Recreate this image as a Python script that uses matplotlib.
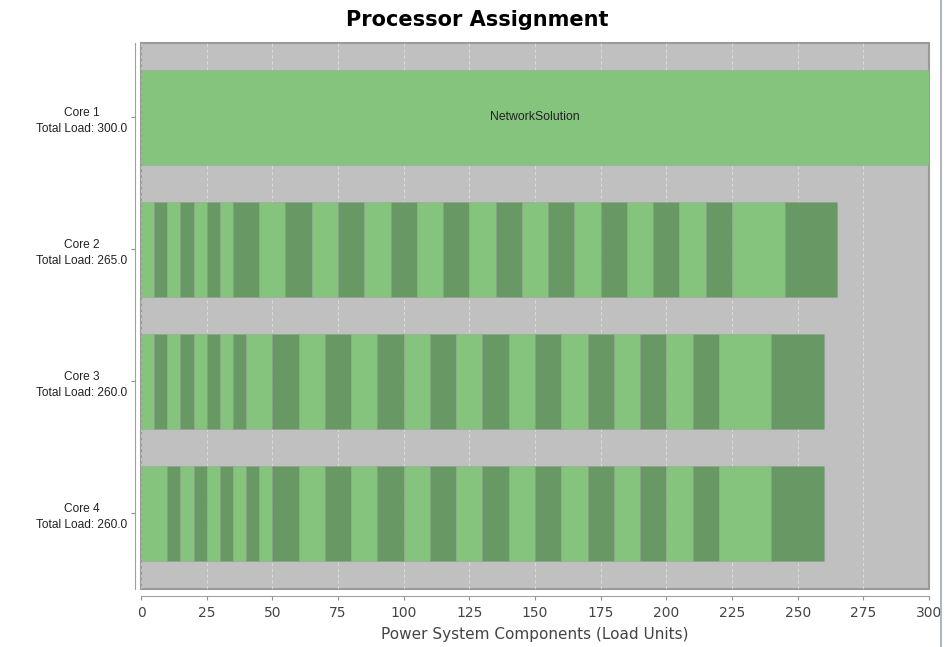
import matplotlib.pyplot as plt
from matplotlib.lines import Line2D

# segment widths per core, read left to right (colours alternate light/dark)
cores = ["Core 1", "Core 2", "Core 3", "Core 4"]
core1_widths = [300]
core2_widths = [5, 5, 5, 5, 5, 5, 5,
                10, 10, 10, 10, 10, 10, 10, 10, 10, 10,
                10, 10, 10, 10, 10, 10, 10, 10, 10,
                20, 20]
core3_widths = [5, 5, 5, 5, 5, 5, 5, 5,
                10, 10, 10, 10, 10, 10, 10, 10, 10,
                10, 10, 10, 10, 10, 10, 10, 10, 10,
                20, 20]
core4_widths = [10, 5, 5, 5, 5, 5, 5, 5, 5,
                10, 10, 10, 10, 10, 10, 10, 10, 10,
                10, 10, 10, 10, 10, 10, 10, 10,
                20, 20]
core1_names = ["NetworkSolution"]
x_ticks = [0, 25, 50, 75, 100, 125, 150, 175, 200, 225, 250, 275, 300]

LIGHT = "#85c47d"
DARK = "#689964"
BG = "#c0c0c0"

fig = plt.figure(figsize=(9.46, 6.47), dpi=100)
ax = fig.add_axes([141 / 946, 1 - 589 / 647, 788 / 946, 546 / 647])
ax.set_facecolor(BG)
ax.patch.set_edgecolor("#9a9a9a")
ax.patch.set_linewidth(1.5)

all_widths = [core1_widths, core2_widths, core3_widths, core4_widths]
for i, widths in enumerate(all_widths):
    left = 0
    for j, w in enumerate(widths):
        ax.barh(i, w, left=left, height=0.72,
                color=LIGHT if j % 2 == 0 else DARK,
                edgecolor=(0.55, 0.62, 0.55, 0.35), linewidth=0.8, zorder=2)
        left += w

ax.text(core1_widths[0] / 2, 0, core1_names[0], ha="center", va="center",
        fontsize=8.8, family="Liberation Sans", color="#222222", zorder=3)

for s in ("top", "right"):
    ax.spines[s].set_visible(False)
ax.spines["left"].set_position(("outward", 4))
ax.spines["bottom"].set_position(("outward", 5))
ax.spines["left"].set_color("#a0a0a0")
ax.spines["bottom"].set_color("#a0a0a0")
ax.tick_params(axis="x", length=3, color="#909090", pad=4)
ax.tick_params(axis="y", length=3, color="#909090", pad=3)

ax.set_xlim(0, 300)
ax.set_ylim(3.572, -0.564)
ax.set_xticks(x_ticks)
ax.set_xticklabels([str(t) for t in x_ticks], fontsize=10, color="#444444")
ax.set_yticks(range(len(cores)))
labels = [f"{c}\nTotal Load: {sum(w):.1f}" for c, w in zip(cores, all_widths)]
ax.set_yticklabels(labels)
for t in ax.get_yticklabels():
    t.set_fontfamily("Liberation Sans")
    t.set_fontsize(8.6)
    t.set_color("#222222")
    t.set_multialignment("center")
    t.set_linespacing(1.4)

ax.grid(axis="x", color="white", linestyle=(0, (4, 3)), linewidth=0.6, alpha=0.5, zorder=1)
ax.set_axisbelow(True)

ax.set_xlabel("Power System Components (Load Units)", fontsize=11, color="#444444", labelpad=5)
fig.suptitle("Processor Assignment", fontsize=15, fontweight="bold", x=0.505, y=0.985)

# right panel border
fig.add_artist(Line2D([941 / 946, 941 / 946], [0, 1], color="#a0a8b0", linewidth=1.2))

fig.savefig("out.png", dpi=100)
